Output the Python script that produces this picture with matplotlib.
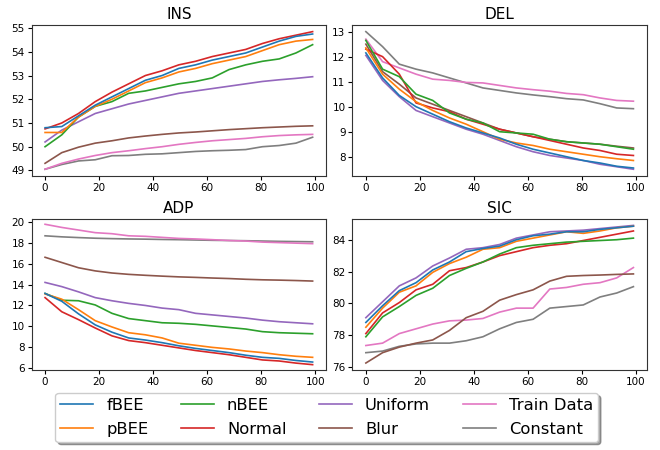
import numpy as np
import matplotlib
matplotlib.use("Agg")
import matplotlib.pyplot as plt

x = np.linspace(0, 99, 17)

methods = ["fBEE", "pBEE", "nBEE", "Normal", "Uniform", "Blur", "Train Data", "Constant"]
colors = ["#1f77b4", "#ff7f0e", "#2ca02c", "#d62728", "#9467bd", "#8c564b", "#e377c2", "#7f7f7f"]

ins_fbee = [50.8, 50.85, 51.3, 51.75, 52.1, 52.45, 52.8, 53.0, 53.3, 53.45, 53.65, 53.8, 53.95, 54.2, 54.45, 54.65, 54.75]
ins_pbee = [50.6, 50.6, 51.25, 51.7, 52.0, 52.35, 52.7, 52.9, 53.15, 53.3, 53.5, 53.65, 53.8, 54.05, 54.3, 54.45, 54.52]
ins_nbee = [50.0, 50.5, 51.25, 51.7, 51.9, 52.25, 52.35, 52.5, 52.65, 52.75, 52.9, 53.25, 53.45, 53.6, 53.7, 53.95, 54.3]
ins_normal = [50.75, 51.0, 51.4, 51.9, 52.3, 52.65, 53.0, 53.2, 53.45, 53.6, 53.8, 53.95, 54.1, 54.35, 54.55, 54.7, 54.85]
ins_uniform = [50.2, 50.7, 51.05, 51.4, 51.6, 51.8, 51.95, 52.1, 52.25, 52.35, 52.45, 52.55, 52.65, 52.75, 52.82, 52.88, 52.95]
ins_blur = [49.3, 49.75, 49.98, 50.15, 50.25, 50.37, 50.45, 50.52, 50.58, 50.62, 50.67, 50.72, 50.76, 50.8, 50.83, 50.86, 50.88]
ins_train = [49.05, 49.3, 49.48, 49.63, 49.75, 49.83, 49.92, 50.0, 50.1, 50.18, 50.25, 50.3, 50.35, 50.42, 50.47, 50.5, 50.52]
ins_const = [49.05, 49.25, 49.4, 49.45, 49.62, 49.63, 49.68, 49.7, 49.75, 49.8, 49.83, 49.85, 49.88, 50.0, 50.05, 50.15, 50.4]

del_fbee = [12.15, 11.15, 10.45, 10.0, 9.7, 9.4, 9.15, 8.95, 8.75, 8.5, 8.3, 8.15, 8.0, 7.85, 7.75, 7.62, 7.55]
del_pbee = [12.35, 11.3, 10.7, 10.2, 9.85, 9.55, 9.3, 9.0, 8.7, 8.55, 8.45, 8.3, 8.2, 8.1, 8.0, 7.92, 7.85]
del_nbee = [12.65, 11.5, 11.2, 10.5, 10.25, 9.75, 9.5, 9.35, 9.0, 8.95, 8.9, 8.7, 8.6, 8.55, 8.5, 8.4, 8.3]
del_normal = [12.3, 12.0, 11.3, 10.15, 9.95, 9.8, 9.5, 9.3, 9.1, 8.95, 8.8, 8.65, 8.5, 8.35, 8.25, 8.1, 8.05]
del_uniform = [12.05, 11.05, 10.4, 9.85, 9.6, 9.35, 9.1, 8.9, 8.65, 8.4, 8.2, 8.05, 7.95, 7.85, 7.7, 7.6, 7.5]
del_blur = [12.5, 11.4, 10.9, 10.35, 10.1, 9.85, 9.6, 9.35, 9.1, 8.95, 8.8, 8.7, 8.6, 8.55, 8.5, 8.42, 8.35]
del_train = [12.7, 11.8, 11.55, 11.3, 11.1, 11.05, 10.97, 10.95, 10.85, 10.75, 10.68, 10.62, 10.53, 10.48, 10.35, 10.25, 10.22]
del_const = [13.0, 12.4, 11.7, 11.5, 11.35, 11.15, 10.95, 10.75, 10.65, 10.55, 10.47, 10.4, 10.32, 10.27, 10.12, 9.95, 9.92]

adp_fbee = [13.15, 12.4, 11.2, 10.15, 9.45, 8.9, 8.7, 8.45, 8.15, 7.9, 7.7, 7.5, 7.25, 7.05, 6.95, 6.75, 6.6]
adp_pbee = [13.1, 12.6, 11.6, 10.55, 9.95, 9.4, 9.2, 8.9, 8.4, 8.2, 8.0, 7.85, 7.65, 7.5, 7.3, 7.15, 7.05]
adp_nbee = [13.15, 12.5, 12.45, 12.05, 11.25, 10.75, 10.55, 10.35, 10.3, 10.2, 10.05, 9.9, 9.75, 9.5, 9.4, 9.35, 9.3]
adp_normal = [12.75, 11.4, 10.65, 9.85, 9.1, 8.65, 8.45, 8.2, 7.95, 7.7, 7.5, 7.3, 7.05, 6.8, 6.7, 6.5, 6.35]
adp_uniform = [14.2, 13.8, 13.3, 12.75, 12.45, 12.2, 12.0, 11.75, 11.6, 11.25, 11.1, 10.95, 10.8, 10.6, 10.45, 10.35, 10.25]
adp_blur = [16.6, 16.1, 15.6, 15.3, 15.1, 14.97, 14.88, 14.8, 14.73, 14.68, 14.62, 14.57, 14.5, 14.45, 14.42, 14.38, 14.33]
adp_train = [19.75, 19.45, 19.2, 18.95, 18.85, 18.65, 18.6, 18.5, 18.4, 18.35, 18.28, 18.2, 18.15, 18.05, 18.0, 17.95, 17.9]
adp_const = [18.65, 18.55, 18.48, 18.42, 18.38, 18.35, 18.33, 18.3, 18.28, 18.25, 18.22, 18.2, 18.18, 18.15, 18.12, 18.1, 18.08]

sic_fbee = [78.8, 79.85, 80.8, 81.3, 82.1, 82.6, 83.25, 83.45, 83.6, 84.0, 84.25, 84.35, 84.5, 84.5, 84.65, 84.75, 84.85]
sic_pbee = [78.5, 79.7, 80.7, 81.1, 81.95, 82.5, 82.9, 83.4, 83.5, 83.9, 84.1, 84.3, 84.5, 84.4, 84.55, 84.75, 84.85]
sic_nbee = [77.9, 79.15, 79.8, 80.5, 80.95, 81.75, 82.2, 82.6, 83.1, 83.5, 83.65, 83.75, 83.85, 83.9, 83.95, 84.0, 84.1]
sic_normal = [78.1, 79.4, 80.05, 80.85, 81.2, 82.05, 82.25, 82.6, 83.0, 83.25, 83.5, 83.65, 83.75, 83.95, 84.15, 84.35, 84.55]
sic_uniform = [79.1, 80.1, 81.1, 81.6, 82.35, 82.85, 83.4, 83.5, 83.7, 84.1, 84.3, 84.5, 84.55, 84.6, 84.7, 84.8, 84.9]
sic_blur = [76.25, 76.9, 77.25, 77.5, 77.7, 78.3, 79.1, 79.5, 80.2, 80.55, 80.85, 81.4, 81.7, 81.75, 81.78, 81.82, 81.85]
sic_train = [77.35, 77.5, 78.1, 78.4, 78.7, 78.9, 78.95, 79.05, 79.45, 79.7, 79.7, 80.9, 81.0, 81.2, 81.3, 81.6, 82.25]
sic_const = [76.9, 77.0, 77.3, 77.45, 77.5, 77.5, 77.65, 77.9, 78.4, 78.8, 79.0, 79.7, 79.8, 79.9, 80.4, 80.65, 81.05]

panels = [
    ("INS", [ins_fbee, ins_pbee, ins_nbee, ins_normal, ins_uniform, ins_blur, ins_train, ins_const]),
    ("DEL", [del_fbee, del_pbee, del_nbee, del_normal, del_uniform, del_blur, del_train, del_const]),
    ("ADP", [adp_fbee, adp_pbee, adp_nbee, adp_normal, adp_uniform, adp_blur, adp_train, adp_const]),
    ("SIC", [sic_fbee, sic_pbee, sic_nbee, sic_normal, sic_uniform, sic_blur, sic_train, sic_const]),
]

fig, axes = plt.subplots(2, 2, figsize=(6.6, 4.5), dpi=100)
fig.subplots_adjust(left=0.048, right=0.98, top=0.945, bottom=0.178, wspace=0.09, hspace=0.28)

handles = []
for ax, (title, series) in zip(axes.flat, panels):
    hs = []
    for name, vals, c in reversed(list(zip(methods, series, colors))):
        h, = ax.plot(x, vals, color=c, lw=1.2, label=name)
        hs.append(h)
    ax.set_title(title, fontsize=11, pad=4)
    ax.tick_params(labelsize=7.5, length=3, pad=2)
    ax.set_xticks([0, 20, 40, 60, 80, 100])
    for s in ax.spines.values():
        s.set_color("#333333")
    if not handles:
        handles = list(reversed(hs))

axes[1, 0].set_yticks([6, 8, 10, 12, 14, 16, 18, 20])
axes[1, 0].set_ylim(5.85, 20.3)

fig.legend(handles, methods, loc="lower center", ncol=4, bbox_to_anchor=(0.495, 0.0),
           fontsize=11.8, shadow=True, handlelength=2.0, columnspacing=2.0,
           borderpad=0.3, labelspacing=0.55)

fig.savefig("out.png", dpi=100)
